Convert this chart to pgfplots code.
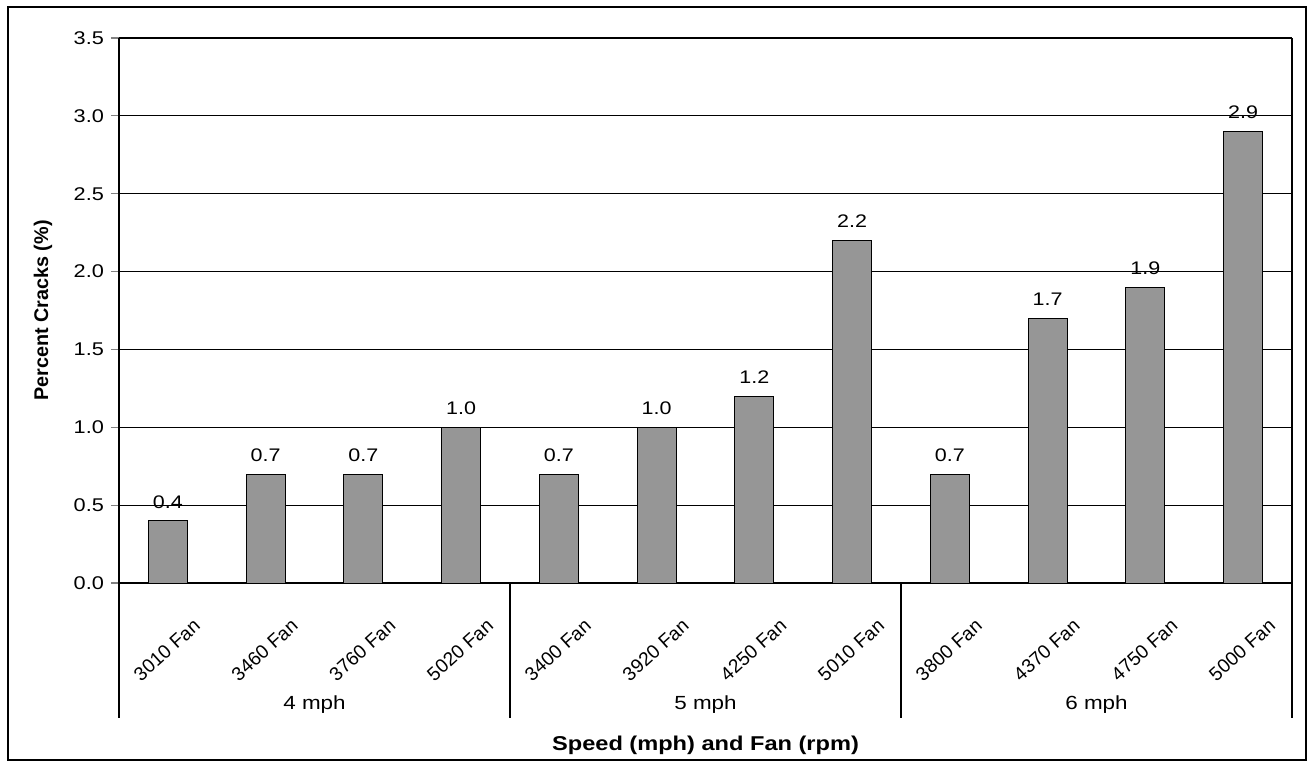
\documentclass[border=0pt]{standalone}
\usepackage{fontspec}
\setmainfont{Liberation Sans}[FakeStretch=1.18]
\newfontfamily\plainsans{Liberation Sans}
\usepackage{pgfplots}
\pgfplotsset{compat=1.18}

\definecolor{barfill}{HTML}{969696}

\pgfplotstableread{
x y
0 0.4
1 0.7
2 0.7
3 1.0
4 0.7
5 1.0
6 1.2
7 2.2
8 0.7
9 1.7
10 1.9
11 2.9
}\cracks

\begin{document}
\begin{tikzpicture}
\useasboundingbox (0pt,0pt) rectangle (654pt,384pt);
\draw[line width=1pt] (4pt,4pt) rectangle (653pt,380.5pt);
\begin{axis}[
  at={(59.5pt,92.5pt)}, anchor=south west,
  width=586.5pt, height=272.5pt, scale only axis,
  xmin=-0.5, xmax=11.5, ymin=0, ymax=3.5,
  axis x line*=bottom, axis y line*=left,
  axis line style={line width=0.6pt},
  ytick={0,0.5,1,1.5,2,2.5,3,3.5},
  ymajorgrids, grid style={black, line width=0.6pt},
  ytick style={gray, line width=0.6pt},
  tick align=outside, major tick length=4pt,
  xtick={0,...,11},
  xtick style={draw=none},
  xticklabels={3010 Fan,3460 Fan,3760 Fan,5020 Fan,3400 Fan,3920 Fan,4250 Fan,5010 Fan,3800 Fan,4370 Fan,4750 Fan,5000 Fan},
  xticklabel style={yshift=-29.5pt, xshift=-0.5pt, rotate=42, anchor=center, inner sep=0pt,
    font=\plainsans\fontsize{9.6}{10}\selectfont},
  yticklabel style={font=\fontsize{9.2}{10}\selectfont,
    /pgf/number format/.cd, fixed, fixed zerofill, precision=1},
  /pgf/number format/assume math mode=true,
  clip=false,
]
\addplot[ybar, bar width=19.5pt, fill=barfill, draw=black, line width=0.5pt,
  nodes near coords,
  nodes near coords style={font=\fontsize{9.1}{10}\selectfont, anchor=south, inner sep=0pt, yshift=6pt,
    /pgf/number format/.cd, fixed, fixed zerofill, precision=1, assume math mode=true}]
  table[x=x, y=y] {\cracks};
\draw[line width=0.6pt] (axis cs:-0.5,0) -- ++(0pt,-67.5pt);
\draw[line width=0.6pt] (axis cs:3.5,0) -- ++(0pt,-67.5pt);
\draw[line width=0.6pt] (axis cs:7.5,0) -- ++(0pt,-67.5pt);
\draw[line width=0.6pt] (axis cs:11.5,3.5) -- (axis cs:11.5,0) -- ++(0pt,-67.5pt);
\node[font=\fontsize{9.5}{10}\selectfont] at ([yshift=-61pt]axis cs:1.5,0) {4 mph};
\node[font=\fontsize{9.5}{10}\selectfont] at ([yshift=-61pt]axis cs:5.5,0) {5 mph};
\node[font=\fontsize{9.5}{10}\selectfont] at ([yshift=-61pt]axis cs:9.5,0) {6 mph};
\node[font=\fontsize{10}{11}\selectfont\bfseries] at ([yshift=-81pt]axis cs:5.5,0) {Speed (mph) and Fan (rpm)};
\node[font=\plainsans\fontsize{9.9}{11}\selectfont\bfseries, rotate=90] at ([xshift=-38pt]axis cs:-0.5,1.75) {Percent Cracks (\%)};
\end{axis}
\end{tikzpicture}
\end{document}
